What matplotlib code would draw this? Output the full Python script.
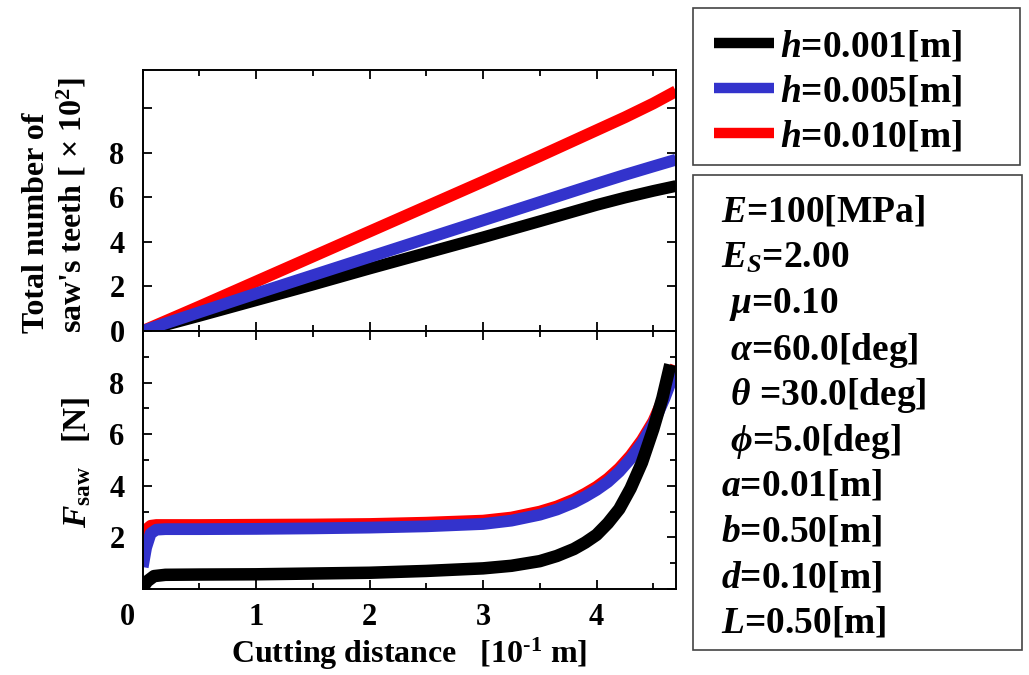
import matplotlib
matplotlib.use('Agg')
import matplotlib.pyplot as plt
from matplotlib.lines import Line2D
from matplotlib.patches import Rectangle
from matplotlib.ticker import MultipleLocator, FuncFormatter

plt.rcParams['font.family'] = 'Liberation Serif'
plt.rcParams['font.weight'] = 'bold'
plt.rcParams['axes.labelweight'] = 'bold'
plt.rcParams['mathtext.fontset'] = 'custom'
plt.rcParams['mathtext.rm'] = 'Liberation Serif:bold'
plt.rcParams['mathtext.bf'] = 'Liberation Serif:bold'
plt.rcParams['mathtext.it'] = 'Liberation Serif:italic:bold'

# Total number of saw's teeth [x10^2] vs cutting distance [10^-1 m]
teeth_x = [0.0, 0.5, 1.0, 1.5, 2.0, 2.5, 3.0, 3.5, 4.0, 4.25, 4.5, 4.7]
teeth_h001 = [0.0, 0.68, 1.38, 2.08, 2.8, 3.5, 4.2, 4.92, 5.65, 5.98, 6.28, 6.5]
teeth_h005 = [0.0, 0.84, 1.68, 2.5, 3.32, 4.14, 4.96, 5.78, 6.6, 7.0, 7.38, 7.68]
teeth_h010 = [0.0, 1.1, 2.22, 3.34, 4.46, 5.58, 6.7, 7.84, 9.0, 9.58, 10.2, 10.75]

# Sawing force F_saw [N]
fsaw_x_h001 = [0.0, 0.04, 0.1, 0.2, 0.5, 1.0, 1.5, 2.0, 2.5, 3.0, 3.25, 3.5,
               3.65, 3.8, 3.9, 4.0, 4.1, 4.2, 4.3, 4.4, 4.5, 4.58, 4.65]
fsaw_h001 = [0.05, 0.3, 0.5, 0.55, 0.56, 0.57, 0.6, 0.63, 0.7, 0.8, 0.9, 1.08,
             1.28, 1.55, 1.8, 2.1, 2.55, 3.1, 3.9, 4.9, 6.2, 7.4, 8.7]
fsaw_x = [0.0, 0.03, 0.07, 0.12, 0.2, 0.5, 1.0, 1.5, 2.0, 2.5, 3.0, 3.25,
          3.5, 3.65, 3.8, 3.9, 4.0, 4.1, 4.2, 4.3, 4.4, 4.5, 4.6, 4.7]
fsaw_h005 = [0.85, 1.6, 2.15, 2.3, 2.32, 2.32, 2.33, 2.35, 2.38, 2.43, 2.52,
             2.65, 2.88, 3.08, 3.35, 3.58, 3.84, 4.15, 4.55, 5.05, 5.65, 6.4,
             7.4, 8.55]
fsaw_h010 = [1.65, 2.3, 2.45, 2.48, 2.48, 2.48, 2.49, 2.5, 2.52, 2.57, 2.65,
             2.77, 3.0, 3.2, 3.47, 3.7, 3.96, 4.28, 4.68, 5.17, 5.77, 6.5,
             7.5, 8.65]

series_labels = [r'$h$=0.001[m]', r'$h$=0.005[m]', r'$h$=0.010[m]']
series_colors = ['black', '#3333cc', '#ff0000']

param_labels = [r'$E$=100[MPa]', r'$E_S$=2.00', r' $\mu$=0.10',
                r' $\alpha$=60.0[deg]', r' $\theta$ =30.0[deg]',
                r' $\phi$=5.0[deg]', r'$a$=0.01[m]', r'$b$=0.50[m]',
                r'$d$=0.10[m]', r'$L$=0.50[m]']

W, H = 1029, 675
fig = plt.figure(figsize=(W / 100, H / 100), dpi=100)
ax1 = fig.add_axes([142.7 / W, (H - 331) / H, 533.3 / W, (331 - 70) / H])
ax2 = fig.add_axes([142.7 / W, (H - 589) / H, 533.3 / W, (589 - 331) / H])

lw = 8.5
# top: teeth count
ax1.plot(teeth_x, teeth_h001, color=series_colors[0], lw=lw,
         solid_capstyle='butt')
ax1.plot(teeth_x, teeth_h010, color=series_colors[2], lw=lw,
         solid_capstyle='butt')
ax1.plot(teeth_x, teeth_h005, color=series_colors[1], lw=lw,
         solid_capstyle='butt')

# bottom: sawing force
ax2.plot(fsaw_x, fsaw_h010, color=series_colors[2], lw=lw,
         solid_capstyle='butt')
ax2.plot(fsaw_x, fsaw_h005, color=series_colors[1], lw=lw,
         solid_capstyle='butt')
ax2.plot(fsaw_x_h001, fsaw_h001, color=series_colors[0], lw=lw + 0.5,
         solid_capstyle='butt')

for ax in (ax1, ax2):
    ax.set_xlim(0, 4.7)
    for sp in ax.spines.values():
        sp.set_linewidth(1.4)
    ax.tick_params(which='both', direction='in', top=True, right=True,
                   width=1.3, labelsize=22)
    ax.tick_params(which='major', length=6.5)
    ax.tick_params(which='minor', length=4)
    ax.tick_params(axis='y', pad=13)
    ax.tick_params(axis='x', pad=10)

ax1.set_ylim(0, 11.7)
ax1.xaxis.set_major_locator(MultipleLocator(1))
ax1.xaxis.set_minor_locator(MultipleLocator(0.5))
ax1.tick_params(axis='x', labelbottom=False)
ax1.yaxis.set_major_locator(MultipleLocator(2))
ax1.yaxis.set_major_formatter(
    FuncFormatter(lambda v, p: '' if v > 9 else '%d' % v))

ax2.set_ylim(0, 10)
ax2.xaxis.set_major_locator(MultipleLocator(1))
ax2.xaxis.set_minor_locator(MultipleLocator(0.5))
ax2.xaxis.set_major_formatter(
    FuncFormatter(lambda v, p: '' if v < 0.5 else '%d' % v))
ax2.yaxis.set_major_locator(MultipleLocator(2))
ax2.yaxis.set_minor_locator(MultipleLocator(1))
ax2.yaxis.set_major_formatter(
    FuncFormatter(lambda v, p: '' if (v < 1 or v > 9) else '%d' % v))

# x tick label "0" sits left of the axis corner
ax2.annotate('0', xy=(0, 0), xycoords='axes fraction', xytext=(-11, -10),
             textcoords='offset points', ha='center', va='top', fontsize=22)

ax2.set_xlabel(r'Cutting distance   [10$^{\text{-1}}$ m]', fontsize=23,
               fontweight='bold', labelpad=3)

fig.text(55 / W, (H - 333) / H,
         "Total number of\nsaw's teeth [ $\\times$ 10$^2$]",
         rotation=90, ha='center', va='bottom', multialignment='left',
         fontsize=23, linespacing=1.15)
fig.text(77 / W, (H - 462) / H, r'$F_{\mathrm{saw}}$   [N]', rotation=90,
         ha='center', va='center', fontsize=24)

# legend box
fig.add_artist(Rectangle((693 / W, (H - 165) / H), 327 / W, 157 / H,
                         transform=fig.transFigure, fill=False,
                         edgecolor='#444444', lw=1.2))
for i, (lab, col) in enumerate(zip(series_labels, series_colors)):
    yc = (H - (43 + 45 * i)) / H
    fig.add_artist(Line2D([714 / W, 774 / W], [yc, yc],
                          transform=fig.transFigure, color=col, lw=7.5,
                          solid_capstyle='butt'))
    fig.text(780 / W, yc, lab, ha='left', va='center_baseline', fontsize=27)

# parameter box
fig.add_artist(Rectangle((693 / W, (H - 650) / H), 329 / W, 475 / H,
                         transform=fig.transFigure, fill=False,
                         edgecolor='#444444', lw=1.2))
for i, lab in enumerate(param_labels):
    yc = (H - (208 + 45.7 * i)) / H
    fig.text(721 / W, yc, lab, ha='left', va='center_baseline', fontsize=27)

fig.savefig('out.png', dpi=100)
